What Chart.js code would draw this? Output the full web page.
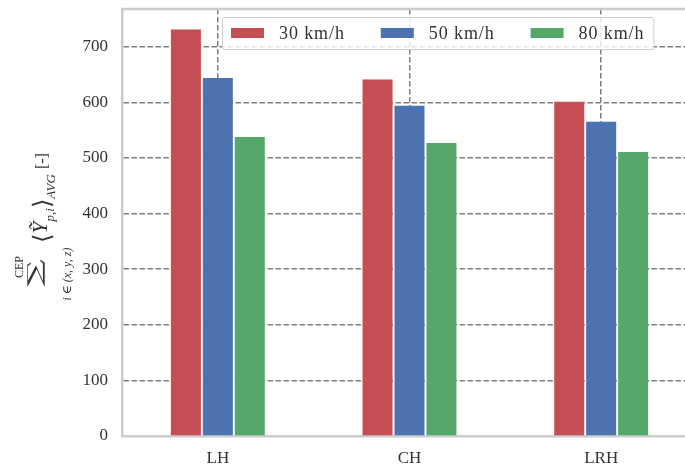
<!DOCTYPE html>
<html>
<head>
<meta charset="utf-8">
<script src="https://cdn.jsdelivr.net/npm/chart.js@4"></script>
<style>
  html, body { margin: 0; padding: 0; background: #fff; overflow: hidden; }
  #wrap { width: 697px; height: 466px; }
</style>
</head>
<body>
<div id="wrap"><canvas id="chart"></canvas></div>
<script>
// ── data ────────────────────────────────────────────────────────────────────
const categories = ['LH', 'CH', 'LRH'];
const speedLabels = ['30 km/h', '50 km/h', '80 km/h'];
const speed30 = [731, 641, 601];
const speed50 = [644, 594, 565];
const speed80 = [538, 527, 511];
const yTicks = [0, 100, 200, 300, 400, 500, 600, 700];

const COLORS = ['#c44e52', '#4c72b0', '#55a868'];
const SERIF = '"Liberation Serif", "DejaVu Serif", serif';
const TEXT = '#333333';
const SPINE = '#cccccc';
const GRID = '#808080';

// top spine (matplotlib-ish frame)
const topSpine = {
  id: 'topSpine',
  afterDraw(chart) {
    const { ctx, chartArea: a } = chart;
    ctx.save();
    ctx.strokeStyle = SPINE;
    ctx.lineWidth = 2.5;
    ctx.beginPath();
    ctx.moveTo(a.left, a.top);
    ctx.lineTo(a.right, a.top);
    ctx.stroke();
    ctx.restore();
  }
};

// legend box inside the plot, top
const boxLegend = {
  id: 'boxLegend',
  afterDraw(chart) {
    const ctx = chart.ctx;
    const left = 222, top = 17, h = 32;
    ctx.save();
    ctx.font = '18px ' + SERIF;
    ctx.letterSpacing = '0.9px';
    const items = chart.data.datasets.map(d => ({ label: d.label, color: d.backgroundColor, w: ctx.measureText(d.label).width }));
    let width = 9;
    items.forEach((it, i) => { width += 33 + 15 + it.w + (i < items.length - 1 ? 36 : 9); });
    ctx.fillStyle = 'rgba(255,255,255,0.8)';
    ctx.strokeStyle = SPINE;
    ctx.lineWidth = 1;
    ctx.beginPath();
    ctx.roundRect(left + 0.5, top + 0.5, width, h, 2);
    ctx.fill();
    ctx.stroke();
    let x = left + 9;
    const cy = top + h / 2;
    items.forEach(it => {
      ctx.fillStyle = it.color;
      ctx.fillRect(x, cy - 5, 33, 10);
      x += 33 + 15;
      ctx.fillStyle = TEXT;
      ctx.textBaseline = 'middle';
      ctx.fillText(it.label, x, cy + 1);
      x += it.w + 36;
    });
    ctx.restore();
  }
};

// rotated math y-axis title
const mathTitle = {
  id: 'mathTitle',
  afterDraw(chart) {
    const ctx = chart.ctx;
    ctx.save();
    ctx.fillStyle = TEXT;
    ctx.rotate(-Math.PI / 2);
    // X = canvas x of baseline, Y = canvas y where text starts (runs upward)
    const put = (txt, font, X, Y, align) => {
      ctx.font = font;
      ctx.textAlign = align || 'left';
      ctx.fillText(txt, -Y, X);
      return ctx.measureText(txt).width;
    };
    // big sum sign, squeezed to fit between x=28 and x=45
    ctx.font = '38px "DejaVu Serif", serif';
    ctx.textAlign = 'center';
    const m = ctx.measureText('\u2211');
    const gh = m.actualBoundingBoxAscent + m.actualBoundingBoxDescent;
    ctx.save();
    ctx.translate(-273, 45);
    ctx.scale(1, 18 / gh);
    ctx.fillText('\u2211', 0, -m.actualBoundingBoxDescent);
    ctx.restore();

    put('CEP', '12px ' + SERIF, 23, 267, 'center');
    put('i \u2208 (x, y, z)', 'italic 12px ' + SERIF, 71, 274, 'center');
    let Y = 243;
    Y -= put('\u27e8', '24px "DejaVu Serif", serif', 50, Y);
    Y -= put('\u1ef8', 'italic 22px ' + SERIF, 47, Y);
    Y -= put('p,i', 'italic 13px ' + SERIF, 54, Y);
    Y -= put('\u27e9', '24px "DejaVu Serif", serif', 50, Y);
    Y -= put('AVG', 'italic 13px ' + SERIF, 55, Y) + 5;
    put('[-]', '16px ' + SERIF, 47, Y);
    ctx.restore();
  }
};

const datasets = [speed30, speed50, speed80].map((vals, i) => ({
  label: speedLabels[i],
  data: vals,
  backgroundColor: COLORS[i],
  categoryPercentage: 0.5,
  barPercentage: 0.94
}));

new Chart(document.getElementById('chart'), {
  type: 'bar',
  data: { labels: categories, datasets },
  options: {
    responsive: true,
    maintainAspectRatio: false,
    animation: false,
    layout: { padding: { top: 9, right: 0, left: 0, bottom: 0 } },
    plugins: { legend: { display: false }, tooltip: { enabled: false } },
    scales: {
      x: {
        offset: true,
        grid: { offset: false, color: GRID, lineWidth: 1.5, drawTicks: false },
        border: { display: true, color: SPINE, width: 2.5, dash: [5.5, 2.5] },
        ticks: { color: TEXT, font: { family: SERIF, size: 17 }, padding: 12 },
        afterFit: s => { s.height = 30; s.paddingLeft = 0; s.paddingRight = 0; }
      },
      y: {
        min: 0,
        max: 768,
        grid: { color: GRID, lineWidth: 1.5, drawTicks: false },
        border: { display: true, color: SPINE, width: 2.5, dash: [5.5, 2.5] },
        ticks: { color: TEXT, font: { family: SERIF, size: 17 }, padding: 14, stepSize: 100 },
        afterBuildTicks: s => { s.ticks = yTicks.map(v => ({ value: v })); },
        afterFit: s => { s.width = 122; s.paddingTop = 0; s.paddingBottom = 0; }
      }
    }
  },
  plugins: [topSpine, boxLegend, mathTitle]
});
</script>
</body>
</html>
